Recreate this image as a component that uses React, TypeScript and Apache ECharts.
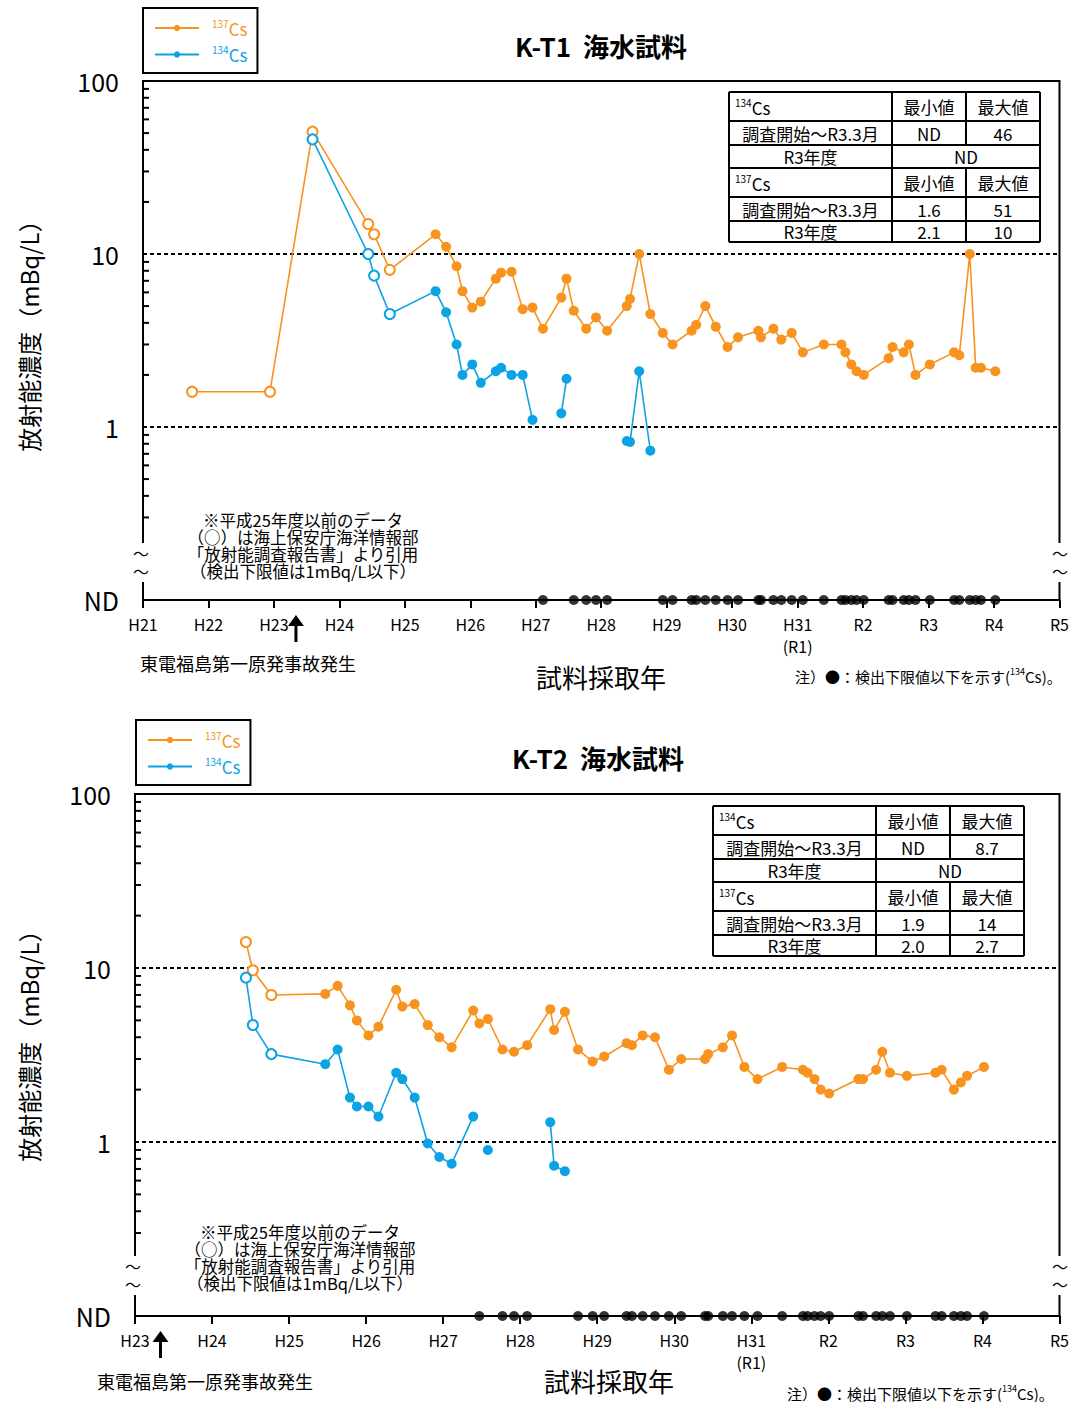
import React, { useEffect, useRef } from "react";
import * as echarts from "echarts";

const ORANGE = "#F7931E";
const BLUE = "#0BA3E4";
const FONT = '"Noto Sans CJK JP", "Noto Sans", sans-serif';

// Axis positions: H21 = 21 ... H31(R1) = 31, R2 = 32 ... R5 = 35
const xTickLabels: Record<number, string> = {
  21: "H21", 22: "H22", 23: "H23", 24: "H24", 25: "H25", 26: "H26", 27: "H27",
  28: "H28", 29: "H29", 30: "H30", 31: "H31\n(R1)", 32: "R2", 33: "R3", 34: "R4", 35: "R5",
};
const ND_VALUE = 0.1; // ND is plotted at the bottom of the log axis
const yMinorTicks = [0.3, 0.4, 0.5, 0.6, 0.7, 0.8, 0.9, 2, 3, 4, 5, 6, 7, 8, 9, 20, 30, 40, 50, 60, 70, 80, 90];
const ACCIDENT = 23.33;

// ---------- K-T1 ----------
const t1Dates = [21.75, 22.94, 23.59, 24.44, 24.53, 24.77, 25.47, 25.63, 25.79, 25.88, 26.03, 26.16, 26.39, 26.47, 26.63, 26.80, 26.95,
  27.11, 27.39, 27.47, 27.58, 27.77, 27.92, 28.09, 28.39, 28.44, 28.58, 28.75, 28.94,
  29.09, 29.38, 29.45, 29.59, 29.75, 29.93, 30.09, 30.40, 30.44, 30.63, 30.75, 30.91,
  31.08, 31.40, 31.67, 31.73, 31.82, 31.90, 32.01, 32.39, 32.45, 32.62, 32.70, 32.80,
  33.02, 33.39, 33.47, 33.63, 33.72, 33.80, 34.02];
const t1Cs137 = [1.6, 1.6, 51, 14.9, 13.0, 8.1, 13.0, 11.0, 8.5, 6.1, 4.9, 5.3, 7.2, 7.8, 7.9, 4.8, 4.9,
  3.7, 5.6, 7.2, 4.7, 3.7, 4.3, 3.6, 5.0, 5.5, 10.0, 4.5, 3.5,
  3.0, 3.6, 3.9, 5.0, 3.8, 2.9, 3.3, 3.6, 3.3, 3.7, 3.2, 3.5,
  2.7, 3.0, 3.0, 2.7, 2.3, 2.1, 2.0, 2.5, 2.9, 2.7, 3.0, 2.0,
  2.3, 2.7, 2.6, 10.0, 2.2, 2.2, 2.1];
const t1Cs134: (number | string | null)[] = [null, null, 46, 10, 7.5, 4.5, 6.1, 4.6, 3.0, 2.0, 2.3, 1.8, 2.1, 2.2, 2.0, 2.0, 1.1,
  "ND", 1.2, 1.9, "ND", "ND", "ND", "ND", 0.83, 0.82, 2.1, 0.73, "ND",
  "ND", "ND", "ND", "ND", "ND", "ND", "ND", "ND", "ND", "ND", "ND", "ND",
  "ND", "ND", "ND", "ND", "ND", "ND", "ND", "ND", "ND", "ND", "ND", "ND",
  "ND", "ND", "ND", "ND", "ND", "ND", "ND"];
const t1OpenCount = 6; // JCG data (hollow circles)
const t1Table134 = [["ND", "46"], ["ND"]];
const t1Table137 = [["1.6", "51"], ["2.1", "10"]];

// ---------- K-T2 ----------
const t2Dates = [24.44, 24.53, 24.77, 25.47, 25.63, 25.79, 25.88, 26.03, 26.16, 26.39, 26.47, 26.63, 26.80, 26.95,
  27.11, 27.39, 27.47, 27.58, 27.77, 27.92, 28.09, 28.39, 28.44, 28.58, 28.75, 28.94,
  29.09, 29.38, 29.45, 29.59, 29.75, 29.93, 30.09, 30.40, 30.44, 30.63, 30.75, 30.91,
  31.08, 31.40, 31.67, 31.73, 31.82, 31.90, 32.01, 32.39, 32.45, 32.62, 32.70, 32.80,
  33.02, 33.39, 33.47, 33.63, 33.72, 33.80, 34.02];
const t2Cs137 = [14.1, 9.7, 7.0, 7.1, 7.9, 6.1, 5.0, 4.1, 4.6, 7.5, 6.0, 6.2, 4.7, 4.0,
  3.5, 5.7, 4.8, 5.1, 3.4, 3.3, 3.6, 5.8, 4.4, 5.6, 3.4, 2.9,
  3.1, 3.7, 3.6, 4.1, 4.0, 2.6, 3.0, 3.0, 3.2, 3.5, 4.1, 2.7,
  2.3, 2.7, 2.6, 2.5, 2.3, 2.0, 1.9, 2.3, 2.3, 2.6, 3.3, 2.5,
  2.4, 2.5, 2.6, 2.0, 2.2, 2.4, 2.7];
const t2Cs134: (number | string | null)[] = [8.8, 4.7, 3.2, 2.8, 3.4, 1.8, 1.6, 1.6, 1.4, 2.5, 2.3, 1.8, 0.98, 0.82,
  0.75, 1.4, "ND", 0.90, "ND", "ND", "ND", 1.3, 0.73, 0.68, "ND", "ND",
  "ND", "ND", "ND", "ND", "ND", "ND", "ND", "ND", "ND", "ND", "ND", "ND",
  "ND", "ND", "ND", "ND", "ND", "ND", "ND", "ND", "ND", "ND", "ND", "ND",
  "ND", "ND", "ND", "ND", "ND", "ND", "ND"];
const t2OpenCount = 3;
const t2Table134 = [["ND", "8.7"], ["ND"]];
const t2Table137 = [["1.9", "14"], ["2.0", "2.7"]];

const tableHead = ["最小値", "最大値"];
const tableRows = ["調査開始～R3.3月", "R3年度"];
const noteLines = ["※平成25年度以前のデータ", "（○）は海上保安庁海洋情報部", "「放射能調査報告書」より引用", "（検出下限値は1mBq/L以下）"];

const panels = [
  {
    title: "K-T1  海水試料", dates: t1Dates, c137: t1Cs137, c134: t1Cs134, open: t1OpenCount,
    tab134: t1Table134, tab137: t1Table137,
    xMin: 21, xMax: 35,
    grid: { left: 143, top: 81, width: 919, height: 519 },
    titlePos: [601, 45], legend: [143, 8], table: [729, 92], yNameY: 330,
    notes: [303, 520], accidentText: [140, 663], xTitle: [601, 676], foot: [795, 676],
    gap: [543, 582], tilde: [553, 571],
  },
  {
    title: "K-T2  海水試料", dates: t2Dates, c137: t2Cs137, c134: t2Cs134, open: t2OpenCount,
    tab134: t2Table134, tab137: t2Table137,
    xMin: 23, xMax: 35,
    grid: { left: 135, top: 794, width: 927, height: 522 },
    titlePos: [598, 757], legend: [136, 720], table: [713, 806], yNameY: 1040,
    notes: [300, 1232], accidentText: [97, 1381], xTitle: [609, 1380], foot: [787, 1393],
    gap: [1256, 1295], tilde: [1266, 1284],
  },
];

function text(t: string, x: number, y: number, o: any = {}) {
  return {
    type: "text", x, y, z: 100, rotation: o.rotation || 0,
    style: {
      text: t, fill: o.fill || "#000", fontSize: o.fontSize || 17, fontFamily: FONT,
      fontWeight: o.fontWeight || "normal",
      align: o.align || "center", textAlign: o.align || "center",
      verticalAlign: o.va || "middle", textVerticalAlign: o.va || "middle",
      lineHeight: o.lineHeight, rich: o.rich,
    },
  };
}
function hline(x1: number, y1: number, x2: number, y2: number, w = 2) {
  return { type: "line", z: 101, shape: { x1, y1, x2, y2 }, style: { stroke: "#000", lineWidth: w } };
}

const supRich = (size: number, color = "#000") => ({
  s: { fontSize: Math.round(size * 0.6), lineHeight: Math.round(size * 0.6), verticalAlign: "top", fill: color, color, fontFamily: FONT },
  n: { fontSize: size, lineHeight: size + 3, fill: color, color, fontFamily: FONT },
});

function tableEls(x0: number, y0: number, d134: string[][], d137: string[][]) {
  const cx = [0, 163, 237, 311].map((v) => x0 + v);
  const ry = [0, 29, 53, 76, 105, 129, 150].map((v) => y0 + v);
  const els: any[] = [];
  els.push({ type: "rect", z: 99, shape: { x: cx[0], y: ry[0], width: cx[3] - cx[0], height: ry[6] - ry[0] }, style: { fill: "#fff" } });
  ry.forEach((y) => els.push(hline(cx[0], y, cx[3], y)));
  els.push(hline(cx[0], ry[0], cx[0], ry[6]));
  els.push(hline(cx[1], ry[0], cx[1], ry[6]));
  els.push(hline(cx[3], ry[0], cx[3], ry[6]));
  els.push(hline(cx[2], ry[0], cx[2], ry[2]));
  els.push(hline(cx[2], ry[3], cx[2], ry[6]));
  const mid = (i: number) => (ry[i] + ry[i + 1]) / 2;
  const c0 = (cx[0] + cx[1]) / 2, c1 = (cx[1] + cx[2]) / 2, c2 = (cx[2] + cx[3]) / 2, c12 = (cx[1] + cx[3]) / 2;
  const block = (r: number, iso: string, d: string[][]) => {
    els.push(text(`{s|${iso}}{n|Cs}`, cx[0] + 6, mid(r) + 1, { align: "left", rich: supRich(17) }));
    els.push(text(tableHead[0], c1, mid(r)));
    els.push(text(tableHead[1], c2, mid(r)));
    els.push(text(tableRows[0], c0, mid(r + 1)));
    els.push(text(tableRows[1], c0, mid(r + 2)));
    els.push(text(d[0][0], c1, mid(r + 1)));
    els.push(text(d[0][1], c2, mid(r + 1)));
    if (d[1].length === 1) els.push(text(d[1][0], c12, mid(r + 2)));
    else { els.push(text(d[1][0], c1, mid(r + 2))); els.push(text(d[1][1], c2, mid(r + 2))); }
  };
  block(0, "134", d134);
  block(3, "137", d137);
  return els;
}

function buildOption() {
  const grids: any[] = [], xAxes: any[] = [], yAxes: any[] = [], legends: any[] = [], series: any[] = [], graphic: any[] = [];
  panels.forEach((p, i) => {
    const g = p.grid;
    const bottom = g.top + g.height, right = g.left + g.width;
    grids.push({ ...g, show: true, borderColor: "#000", borderWidth: 2, backgroundColor: "transparent" });
    xAxes.push({
      gridIndex: i, type: "value", min: p.xMin, max: p.xMax, interval: 1,
      axisLine: { lineStyle: { color: "#000", width: 2 } },
      axisTick: { show: true, length: 8, lineStyle: { color: "#000", width: 2 } },
      axisLabel: { formatter: (v: number) => xTickLabels[Math.round(v)] || "", fontSize: 16, color: "#000", margin: 13, lineHeight: 22, fontFamily: FONT },
      splitLine: { show: false },
    });
    yAxes.push({
      gridIndex: i, type: "log", logBase: 10, min: ND_VALUE, max: 100,
      axisLine: { show: true, lineStyle: { color: "#000", width: 2 } },
      axisTick: { show: false },
      axisLabel: { formatter: (v: number) => (v < 0.5 ? "ND" : String(Math.round(v))), fontSize: 25, color: "#000", margin: 24, fontFamily: FONT },
      splitLine: { show: true, lineStyle: { type: [4, 3], color: "#000", width: 2 } },
    });
    legends.push({
      left: p.legend[0], top: p.legend[1], orient: "vertical", data: ["137Cs", "134Cs"],
      borderColor: "#000", borderWidth: 2, padding: [10, 10, 10, 11], itemGap: 8, itemWidth: 44, itemHeight: 8,
      selectedMode: false,
      formatter: (n: string) => (n === "137Cs" ? "{oa|137}{ob|Cs}" : "{ba|134}{bb|Cs}"),
      textStyle: {
        fontFamily: FONT,
        rich: {
          oa: { fontSize: 10, lineHeight: 10, verticalAlign: "top", color: ORANGE, fontFamily: FONT, padding: [0, 0, 0, 8] },
          ob: { fontSize: 17, lineHeight: 20, color: ORANGE, fontFamily: FONT },
          ba: { fontSize: 10, lineHeight: 10, verticalAlign: "top", color: BLUE, fontFamily: FONT, padding: [0, 0, 0, 8] },
          bb: { fontSize: 17, lineHeight: 20, color: BLUE, fontFamily: FONT },
        },
      },
    });
    const mk = (vals: (number | string | null)[]) =>
      p.dates.map((d, k) => {
        const v = vals[k];
        const item: any = { value: [d, v === null || v === "ND" ? "-" : v] };
        if (k < p.open) { item.symbol = "emptyCircle"; item.itemStyle = { borderWidth: 1.2 }; }
        return item;
      });
    series.push({
      name: "137Cs", type: "line", xAxisIndex: i, yAxisIndex: i, data: mk(p.c137),
      symbol: "circle", symbolSize: 10, connectNulls: false, z: 3,
      lineStyle: { color: ORANGE, width: 1.6 }, itemStyle: { color: ORANGE },
    });
    series.push({
      name: "134Cs", type: "line", xAxisIndex: i, yAxisIndex: i, data: mk(p.c134),
      symbol: "circle", symbolSize: 10, connectNulls: false, z: 3,
      lineStyle: { color: BLUE, width: 1.6 }, itemStyle: { color: BLUE },
    });
    series.push({
      name: "ND", type: "scatter", xAxisIndex: i, yAxisIndex: i, clip: false, silent: true, z: 6,
      data: p.dates.filter((_, k) => p.c134[k] === "ND").map((d) => [d, ND_VALUE]),
      symbol: "circle", symbolSize: 10, itemStyle: { color: "#000" },
    });
    series.push({
      name: "minor", type: "custom", xAxisIndex: i, yAxisIndex: i, silent: true, clip: false, z: 5,
      data: yMinorTicks.map((v) => [p.xMin, v]),
      encode: { x: 0, y: 1 },
      renderItem: (_params: any, api: any) => {
        const pt = api.coord([api.value(0), api.value(1)]);
        return { type: "line", shape: { x1: pt[0], y1: pt[1], x2: pt[0] + 6, y2: pt[1] }, style: { stroke: "#000", lineWidth: 2 } };
      },
    });

    // annotations
    graphic.push(text(p.title, p.titlePos[0], p.titlePos[1], { fontSize: 26, fontWeight: "bold" }));
    graphic.push(...tableEls(p.table[0], p.table[1], p.tab134, p.tab137));
    graphic.push(text("放射能濃度（mBq/L）", 28, p.yNameY, { fontSize: 24, rotation: Math.PI / 2 }));
    noteLines.forEach((ln, k) => graphic.push(text(ln, p.notes[0], p.notes[1] + k * 17, { fontSize: 16.5, lineHeight: 17 })));
    // axis break
    [g.left, right].forEach((ax) => {
      graphic.push({ type: "rect", z: 99, shape: { x: ax - 4, y: p.gap[0], width: 8, height: p.gap[1] - p.gap[0] }, style: { fill: "#fff" } });
      graphic.push(text("～", ax - 2, p.tilde[0], { fontSize: 16, lineHeight: 17 }));
      graphic.push(text("～", ax - 2, p.tilde[1], { fontSize: 16, lineHeight: 17 }));
    });
    // accident arrow
    const axX = g.left + ((ACCIDENT - p.xMin) / (p.xMax - p.xMin)) * g.width;
    const tip = bottom + 15;
    graphic.push({ type: "line", z: 100, shape: { x1: axX, y1: tip + 6, x2: axX, y2: tip + 27 }, style: { stroke: "#000", lineWidth: 3 } });
    graphic.push({ type: "polygon", z: 100, shape: { points: [[axX - 8, tip + 11], [axX, tip], [axX + 8, tip + 11]] }, style: { fill: "#000" } });
    graphic.push(text("東電福島第一原発事故発生", p.accidentText[0], p.accidentText[1], { fontSize: 18, align: "left" }));
    graphic.push(text("試料採取年", p.xTitle[0], p.xTitle[1], { fontSize: 26 }));
    graphic.push(text("{n|注）●：検出下限値以下を示す(}{s|134}{n|Cs)。}", p.foot[0], p.foot[1], { align: "left", rich: supRich(15) }));
  });
  return {
    animation: false,
    backgroundColor: "#fff",
    textStyle: { fontFamily: FONT },
    grid: grids, xAxis: xAxes, yAxis: yAxes, legend: legends, series, graphic,
  };
}

export default function App() {
  const ref = useRef<HTMLDivElement>(null);
  useEffect(() => {
    document.body.style.margin = "0";
    const chart = echarts.init(ref.current!, null, { renderer: "svg" });
    chart.setOption(buildOption() as any);
    return () => chart.dispose();
  }, []);
  return <div ref={ref} style={{ width: 1072, height: 1402 }} />;
}
